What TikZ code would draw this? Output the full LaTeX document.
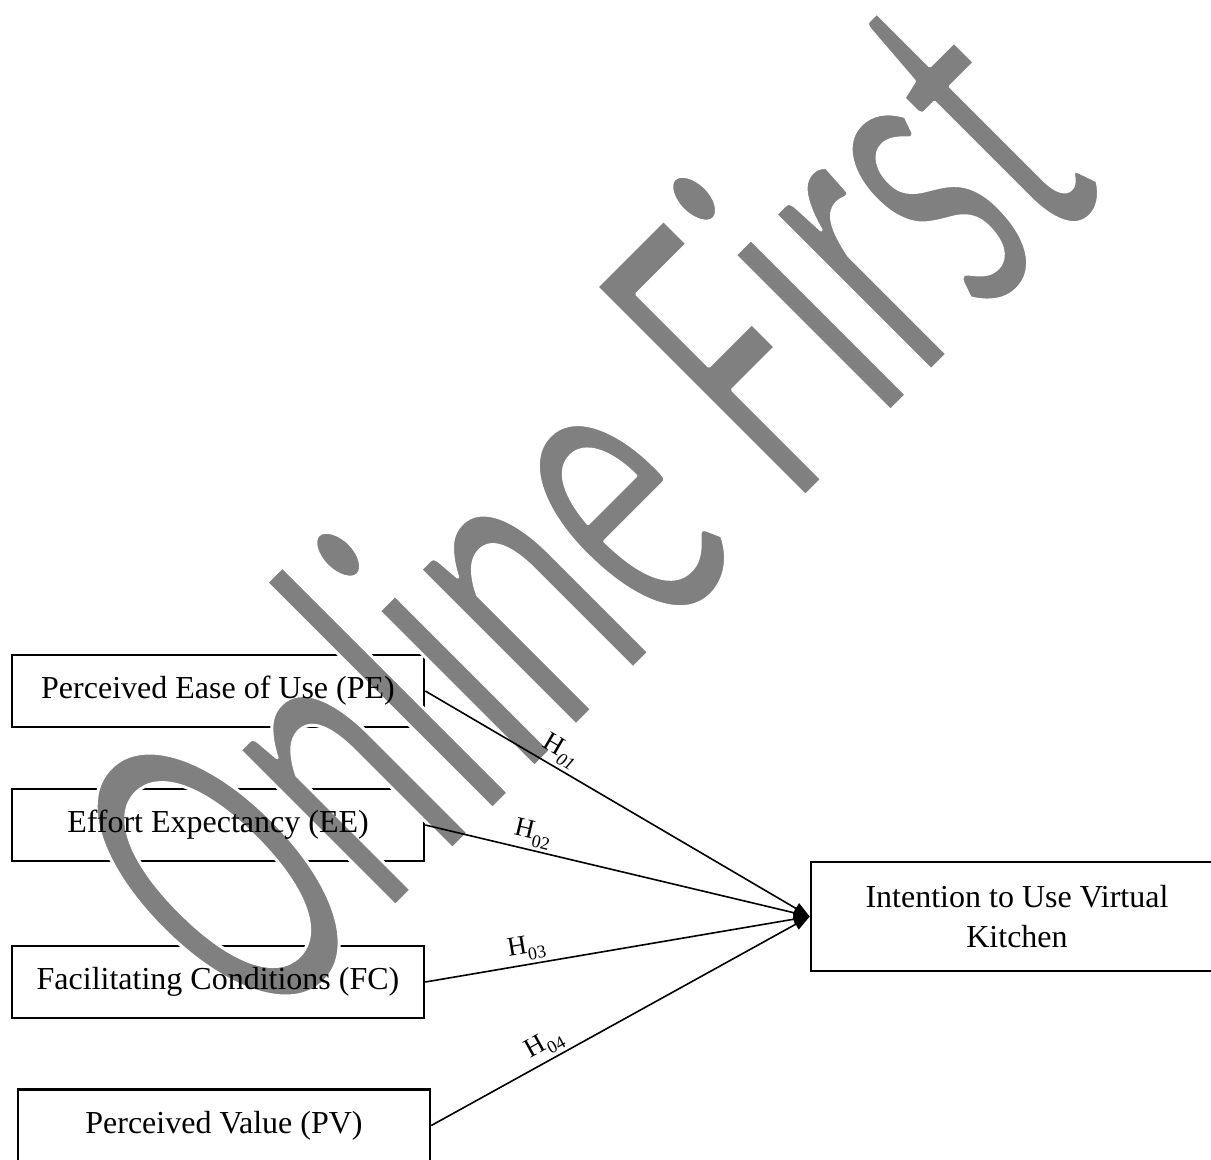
\documentclass[tikz,border=0pt]{standalone}
\usepackage{fontspec}
\setmainfont{Liberation Serif}
\newfontfamily\wmfont{Carlito}[FakeStretch=0.565]
\usetikzlibrary{arrows.meta}
\definecolor{wmgray}{HTML}{808080}
\newcommand\hsub[1]{\raisebox{-7pt}{\fontsize{18}{18}\selectfont #1}}
\makeatletter
\newcommand\wmthin{\pgfsys@invoke{2 Tr 1 1 1 RG 3 w 1 j}}
\newcommand\wmthinoff{\pgfsys@invoke{0 Tr}}
\makeatother
\begin{document}
\begin{tikzpicture}[x=1pt,y=-1pt,
  boxframe/.style={draw, line width=2.6pt, minimum width=412pt, minimum height=72pt, inner sep=0pt},
  boxtext/.style={inner sep=0pt, font=\fontsize{32}{40}\selectfont, align=center},
  conn/.style={line width=1.6pt, -{Triangle[length=16pt,width=12pt]}},
  hlab/.style={sloped, above, font=\fontsize{27}{27}\selectfont, inner sep=3pt}]
\useasboundingbox (0,0) rectangle (1211,1160);
\clip (0,0) rectangle (1211,1160);
% box frames
\node[boxframe] (pe) at (218,691) {};
\node[boxframe] (ee) at (218,825) {};
\node[boxframe] (fc) at (218,982) {};
\node[boxframe] (pv) at (224,1125.5) {};
\node[boxframe, minimum height=109pt] (iu) at (1017,916.5) {};
% watermark
\node[anchor=base west, rotate=45, inner sep=0pt, text=wmgray,
  font=\wmfont\fontsize{460}{460}\selectfont] (wm) at (261,1040)
  {\wmthin Online First\wmthinoff};
% box texts
\node[boxtext] (pe-t) at (pe.center) {Perceived Ease of Use (PE)};
\node[boxtext] (ee-t) at (ee.center) {Effort Expectancy (EE)};
\node[boxtext] (fc-t) at (fc.center) {Facilitating Conditions (FC)};
\node[boxtext] (pv-t) at (pv.center) {Perceived Value (PV)};
\node[boxtext] (iu-t) at (iu.center) {Intention to Use Virtual\\Kitchen};
% connectors
\draw[conn] (pe.east) -- node[hlab, pos=0.33] {H\hsub{\itshape 01}} (iu.west);
\draw[conn] (ee.east) -- node[hlab, pos=0.27] {H\hsub{02}} (iu.west);
\draw[conn] (fc.east) -- node[hlab, pos=0.27] {H\hsub{03}} (iu.west);
\draw[conn] (pv.east) -- node[hlab, pos=0.32] {H\hsub{04}} (iu.west);
\end{tikzpicture}
\end{document}
